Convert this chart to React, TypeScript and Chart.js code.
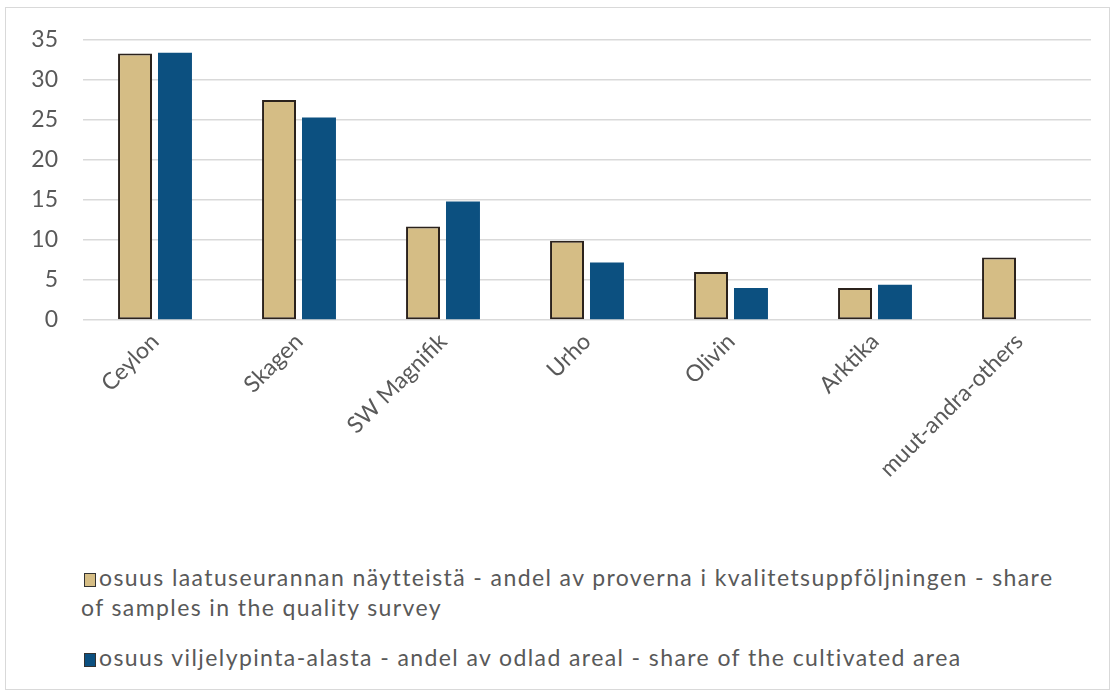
import React, { useEffect, useRef } from "react";
import { Chart, registerables } from "chart.js";

Chart.register(...registerables);

const categories = ["Ceylon", "Skagen", "SW Magnifik", "Urho", "Olivin", "Arktika", "muut-andra-others"];
const samplesShare = [33.3, 27.5, 11.7, 9.9, 6.0, 4.0, 7.8];
const areaShare = [33.4, 25.3, 14.8, 7.2, 4.0, 4.4, null];
const yTicks = [0, 5, 10, 15, 20, 25, 30, 35];
const legendSamples1 = "osuus laatuseurannan näytteistä - andel av proverna i kvalitetsuppföljningen - share";
const legendSamples2 = "of samples in the quality survey";
const legendArea = "osuus viljelypinta-alasta - andel av odlad areal - share of the cultivated area";

const TAN = "#d5bd85";
const BLUE = "#0c5080";
const FONT = "Lato, 'Open Sans', sans-serif";
const TEXT = "#595959";

export default function App() {
  const ref = useRef<HTMLCanvasElement>(null);
  useEffect(() => {
    const chart = new Chart(ref.current!, {
      type: "bar",
      data: {
        labels: categories,
        datasets: [
          {
            label: legendSamples1 + " " + legendSamples2,
            data: samplesShare,
            backgroundColor: TAN,
            borderColor: "#2b221c",
            borderWidth: 2,
            borderSkipped: false,
          },
          {
            label: legendArea,
            data: areaShare as any,
            backgroundColor: BLUE,
            borderWidth: 0,
          },
        ],
      },
      options: {
        animation: false,
        responsive: false,
        maintainAspectRatio: false,
        datasets: { bar: { categoryPercentage: 0.555, barPercentage: 0.85 } },
        layout: { padding: { left: 0, right: 23, top: 40, bottom: 0 } },
        plugins: { legend: { display: false }, tooltip: { enabled: false } },
        scales: {
          x: {
            grid: { display: false },
            border: { display: false },
            ticks: {
              maxRotation: 45,
              minRotation: 45,
              autoSkip: false,
              color: TEXT,
              font: { family: FONT, size: 23 },
              padding: 0,
            },
            afterFit: (s: any) => {
              s.height = 215;
            },
          },
          y: {
            min: 0,
            max: 35,
            afterBuildTicks: (s: any) => {
              s.ticks = yTicks.map((v) => ({ value: v }));
            },
            grid: { color: "#d9d9d9", lineWidth: 1.5, drawTicks: false },
            border: { display: false },
            ticks: {
              color: TEXT,
              font: { family: FONT, size: 23 },
              padding: 25,
            },
            afterFit: (s: any) => {
              s.width = 83;
            },
          },
        },
      },
    });
    return () => chart.destroy();
  }, []);

  const legendText: React.CSSProperties = {
    fontFamily: FONT,
    fontSize: 23,
    letterSpacing: "1.4px",
    color: TEXT,
    whiteSpace: "nowrap",
    position: "absolute",
    lineHeight: "26px",
  };
  const marker = (c: string): React.CSSProperties => ({
    display: "inline-block",
    width: 10,
    height: 12,
    background: c,
    border: "1.5px solid #333",
    marginRight: 3,
    verticalAlign: "-1px",
  });

  return (
    <div style={{ position: "absolute", left: 0, top: 0, width: 1114, height: 695, background: "#fff", overflow: "hidden" }}>
      <div style={{ position: "absolute", left: 5, top: 7, width: 1103, height: 681, border: "1px solid #d9d9d9" }} />
      <canvas ref={ref} width={1114} height={535} style={{ position: "absolute", left: 0, top: 0, width: 1114, height: 535 }} />
      <div style={{ ...legendText, left: 84, top: 564 }}>
        <span style={marker(TAN)} />
        {legendSamples1}
      </div>
      <div style={{ ...legendText, left: 81, top: 594 }}>{legendSamples2}</div>
      <div style={{ ...legendText, left: 84, top: 644 }}>
        <span style={marker(BLUE)} />
        {legendArea}
      </div>
    </div>
  );
}
